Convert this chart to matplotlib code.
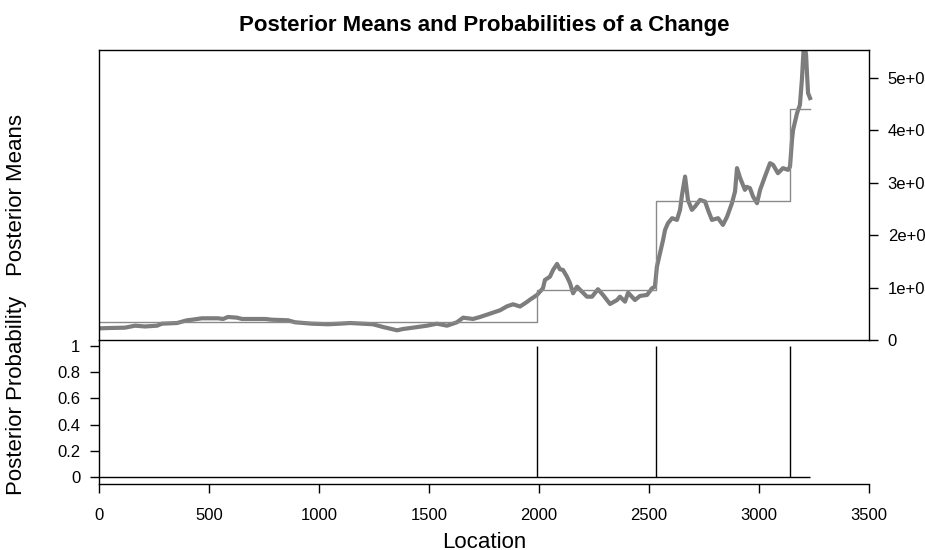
import numpy as np
import matplotlib
matplotlib.use('Agg')
from matplotlib import pyplot as plt
from matplotlib.ticker import FuncFormatter

plt.rcParams['font.family'] = ['Liberation Sans', 'DejaVu Sans']

obs_loc = [5, 50, 118, 164, 209, 264, 286, 355, 400, 423, 468, 541, 564, 586, 627,
           650, 755, 786, 859, 891, 968, 1041, 1095, 1141, 1245, 1291, 1355, 1382,
           1427, 1491, 1536, 1582, 1627, 1655, 1700, 1732, 1777, 1823, 1855, 1882,
           1914, 1945, 1959, 1991, 2018, 2027, 2050, 2064, 2082, 2095, 2109, 2127,
           2141, 2155, 2173, 2195, 2218, 2241, 2268, 2291, 2323, 2355, 2368, 2391,
           2405, 2436, 2459, 2491, 2514, 2527, 2536, 2550, 2564, 2573, 2586, 2605,
           2627, 2641, 2650, 2664, 2677, 2695, 2709, 2732, 2755, 2768, 2786, 2814,
           2836, 2855, 2877, 2891, 2900, 2914, 2936, 2945, 2959, 2973, 2991, 3005,
           3027, 3050, 3064, 3086, 3109, 3132, 3141, 3150, 3155, 3173, 3186, 3195,
           3200, 3205, 3214, 3218, 3223, 3232]
obs_value = [2230, 2290, 2350, 2730, 2580, 2730, 3110, 3240, 3760, 3870, 4140, 4140,
             4010, 4390, 4260, 4010, 4010, 3870, 3760, 3380, 3110, 3000, 3110, 3240,
             3000, 2480, 1850, 2100, 2350, 2730, 3110, 2730, 3380, 4260, 4010, 4390,
             5020, 5670, 6430, 6810, 6390, 7250, 7690, 8590, 9870, 11450, 12080,
             13360, 14500, 13490, 13360, 12080, 10820, 8910, 10170, 9220, 8260, 8260,
             9680, 8590, 6870, 7630, 8260, 7310, 9030, 7630, 8400, 8590, 9870, 10170,
             13990, 16550, 19080, 20990, 22270, 23230, 22900, 24810, 27670, 31160,
             26720, 24810, 25440, 26720, 26390, 24810, 22900, 23230, 21950, 23530,
             26090, 28300, 32770, 30920, 28630, 29200, 28950, 27350, 26090, 28630,
             31160, 33720, 33400, 31810, 32770, 32440, 33070, 38170, 40080, 43260,
             44850, 49620, 53440, 56870, 54390, 50900, 47080, 46130]

# posterior means by segment
seg_start = [0, 1991, 2532, 3141]
seg_end = [1991, 2532, 3141, 3232]
seg_mean = [3450, 9540, 26530, 44100]

# posterior probability of a change
prob_first, prob_last = 1, 3232
change_loc = [1991, 2532, 3141]
change_prob = [1.0, 1.0, 1.0]

x_ticks = [0, 500, 1000, 1500, 2000, 2500, 3000, 3500]
mean_ticks = [0, 10000, 20000, 30000, 40000, 50000]
prob_ticks = [0, 0.2, 0.4, 0.6, 0.8, 1]

W, H = 925, 550
fig = plt.figure(figsize=(W / 100, H / 100), dpi=100)

left, right = 99 / W, 869 / W
ax2 = fig.add_axes([left, 1 - 484 / H, right - left, 144 / H])
ax1 = fig.add_axes([left, 1 - 340 / H, right - left, 290 / H])
ax2.patch.set_visible(False)
ax1.patch.set_visible(False)

# top panel
ax1.plot(obs_loc, obs_value, color='#7d7d7d', lw=3.0, solid_joinstyle='round')
edges = seg_start + [seg_end[-1]]
ax1.step(edges, seg_mean + [seg_mean[-1]], where='post', color='#8a8a8a', lw=1.0)
ax1.set_xlim(0, 3500)
ax1.set_ylim(0, 55300)
ax1.set_xticks([])
ax1.yaxis.tick_right()
ax1.set_yticks(mean_ticks)


def sci_label(v, pos):
    if v == 0:
        return '0'
    e = int(np.floor(np.log10(v)))
    return f'{v / 10 ** e:g}e+{e:02d}'


ax1.yaxis.set_major_formatter(FuncFormatter(sci_label))
ax1.tick_params(axis='y', length=6.5, width=1, pad=7, labelsize=12, colors='black')
for s in ax1.spines.values():
    s.set_linewidth(1.0)
    s.set_color('black')

# bottom panel
ax2.hlines(0, prob_first, prob_last, color='black', lw=1.0)
ax2.vlines(change_loc, 0, change_prob, color='black', lw=1.0)
ax2.set_xlim(0, 3500)
ax2.set_ylim(-0.053, 1.046)
ax2.set_xticks(x_ticks)
ax2.set_xticklabels([str(t) for t in x_ticks])
ax2.set_yticks(prob_ticks)
ax2.set_yticklabels(['0', '0.2', '0.4', '0.6', '0.8', '1'])
ax2.spines['right'].set_visible(False)
ax2.spines['top'].set_visible(False)
for s in ax2.spines.values():
    s.set_linewidth(1.0)
ax2.tick_params(axis='x', length=6.5, width=1, pad=11, labelsize=12)
ax2.tick_params(axis='y', length=6.5, width=1, pad=7, labelsize=12)

# texts
fig.text(484 / W, 1 - 30.7 / H, 'Posterior Means and Probabilities of a Change',
         ha='center', va='baseline', fontsize=16, fontweight='bold')
fig.text(484 / W, 1 - 548 / H, 'Location', ha='center', va='baseline', fontsize=16)
fig.text(17 / W, 1 - 195 / H, 'Posterior Means', rotation=90,
         ha='center', va='center', fontsize=16)
fig.text(17 / W, 1 - 395 / H, 'Posterior Probability', rotation=90,
         ha='center', va='center', fontsize=16)

fig.savefig('out.png', dpi=100)
